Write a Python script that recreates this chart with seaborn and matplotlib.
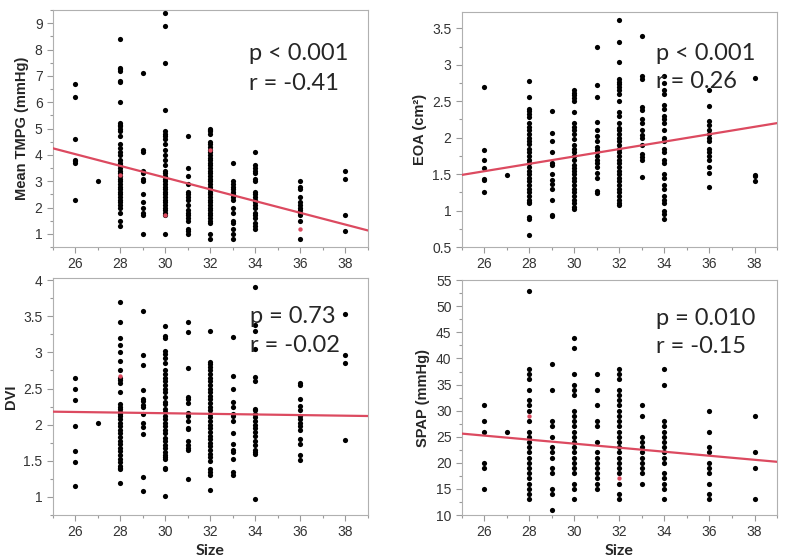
import numpy as np
import pandas as pd
import matplotlib
matplotlib.use('Agg')
import matplotlib.pyplot as plt
from matplotlib.ticker import MultipleLocator
import seaborn as sns

# valve size on x, one dict per panel: size -> measured values
tmpg = {
    26: [6.7, 6.2, 4.6, 3.8, 3.75, 3.7, 2.3],
    27: [3.0],
    28: [8.4, 7.3, 7.25, 7.2, 6.8, 6.75, 6.0, 5.2, 5.15, 5.1, 5.0, 4.9, 4.7, 4.4, 4.25,
         4.1, 4.0, 3.8, 3.7, 3.6, 3.5, 3.4, 3.3, 3.2, 3.1, 3.0, 2.9, 2.8, 2.7, 2.6, 2.5,
         2.4, 2.3, 2.2, 2.1, 2.0, 1.8, 1.5, 1.3],
    29: [7.1, 4.2, 4.1, 3.4, 3.3, 3.1, 3.0, 2.5, 2.2, 2.0, 1.8, 1.7, 1.0],
    30: [9.4, 8.9, 7.5, 5.7, 4.9, 4.8, 4.7, 4.6, 4.4, 4.2, 4.0, 3.8, 3.6, 3.4, 3.3, 3.2,
         3.1, 3.0, 2.9, 2.8, 2.7, 2.6, 2.5, 2.4, 2.3, 2.2, 2.1, 2.0, 1.9, 1.8, 1.7, 1.0],
    31: [4.7, 3.5, 3.2, 2.9, 2.6, 2.5, 2.4, 2.3, 2.1, 1.9, 1.8, 1.7, 1.6, 1.5, 1.2, 1.1, 1.0],
    32: [5.0, 4.95, 4.9, 4.8, 4.5, 4.4, 4.3, 4.2, 4.1, 4.0, 3.9, 3.8, 3.7, 3.6, 3.5, 3.4,
         3.3, 3.2, 3.1, 3.0, 2.9, 2.8, 2.7, 2.6, 2.5, 2.4, 2.3, 2.2, 2.1, 2.0, 1.9, 1.8,
         1.7, 1.6, 1.5, 1.4, 1.0, 0.8],
    33: [3.7, 3.0, 2.9, 2.8, 2.7, 2.6, 2.5, 2.4, 2.3, 2.0, 1.8, 1.5, 1.4, 1.2, 1.0, 0.8],
    34: [4.1, 3.6, 3.5, 3.4, 3.3, 3.1, 3.0, 2.6, 2.5, 2.4, 2.3, 2.2, 2.1, 2.0, 1.8, 1.7,
         1.6, 1.4, 1.3, 1.2],
    36: [3.0, 2.8, 2.7, 2.4, 2.2, 2.1, 2.0, 1.9, 1.8, 1.7, 1.5, 0.8],
    38: [3.4, 3.1, 1.7, 1.1],
}
eoa = {
    26: [2.69, 1.83, 1.70, 1.58, 1.43, 1.42, 1.26],
    27: [1.49],
    28: [2.78, 2.56, 2.39, 2.36, 2.32, 2.28, 2.20, 2.15, 2.10, 2.05, 2.00, 1.95, 1.92, 1.85,
         1.80, 1.75, 1.70, 1.65, 1.60, 1.55, 1.50, 1.45, 1.40, 1.35, 1.30, 1.25, 1.20, 1.15,
         1.12, 1.10, 0.91, 0.89, 0.66],
    29: [2.37, 2.07, 1.96, 1.80, 1.65, 1.63, 1.50, 1.42, 1.37, 1.30, 1.14, 0.94, 0.93],
    30: [2.65, 2.62, 2.58, 2.55, 2.50, 2.35, 2.20, 2.15, 2.10, 2.05, 1.98, 1.90, 1.85, 1.80,
         1.75, 1.70, 1.62, 1.58, 1.55, 1.50, 1.45, 1.40, 1.35, 1.30, 1.25, 1.20, 1.15, 1.10,
         1.05, 1.02],
    31: [3.25, 2.72, 2.56, 2.22, 2.11, 2.02, 1.95, 1.87, 1.83, 1.80, 1.75, 1.70, 1.65, 1.60,
         1.52, 1.45, 1.27, 1.24],
    32: [3.62, 3.31, 3.04, 2.80, 2.77, 2.73, 2.70, 2.66, 2.60, 2.50, 2.35, 2.30, 2.20, 2.14,
         2.10, 2.05, 2.00, 1.95, 1.90, 1.85, 1.80, 1.75, 1.70, 1.65, 1.60, 1.55, 1.50, 1.45,
         1.40, 1.35, 1.30, 1.25, 1.20, 1.15, 1.10, 1.08],
    33: [3.39, 2.85, 2.80, 2.42, 2.38, 2.26, 2.20, 2.10, 2.04, 2.00, 1.90, 1.78, 1.73, 1.70, 1.46],
    34: [2.85, 2.75, 2.65, 2.60, 2.45, 2.40, 2.30, 2.25, 2.20, 2.10, 2.00, 1.95, 1.85, 1.80,
         1.70, 1.65, 1.50, 1.45, 1.35, 1.30, 1.20, 1.15, 1.10, 1.00, 0.95, 0.89],
    36: [2.65, 2.44, 2.23, 2.18, 2.10, 2.05, 2.00, 1.95, 1.85, 1.80, 1.75, 1.70, 1.60, 1.52, 1.32],
    38: [2.82, 1.49, 1.47, 1.40],
}
dvi = {
    26: [2.64, 2.50, 2.34, 1.98, 1.64, 1.49, 1.15],
    27: [2.03],
    28: [3.70, 3.42, 3.20, 3.10, 3.00, 2.88, 2.75, 2.65, 2.62, 2.58, 2.45, 2.28, 2.25, 2.22,
         2.18, 2.15, 2.12, 2.08, 2.02, 1.98, 1.93, 1.88, 1.83, 1.78, 1.73, 1.68, 1.63, 1.58,
         1.53, 1.48, 1.43, 1.40, 1.38, 1.19],
    29: [3.57, 2.96, 2.83, 2.48, 2.36, 2.33, 2.27, 2.25, 2.15, 2.02, 1.97, 1.87, 1.28, 1.08],
    30: [3.37, 3.23, 3.20, 3.02, 2.98, 2.92, 2.85, 2.75, 2.70, 2.65, 2.60, 2.55, 2.50, 2.45,
         2.38, 2.32, 2.28, 2.22, 2.18, 2.12, 2.08, 2.02, 1.98, 1.92, 1.88, 1.82, 1.78, 1.72,
         1.68, 1.62, 1.58, 1.55, 1.52, 1.40, 1.38, 1.01],
    31: [3.42, 3.28, 2.78, 2.38, 2.35, 2.30, 2.16, 2.12, 2.05, 1.96, 1.94, 1.78, 1.72, 1.68,
         1.65, 1.25],
    32: [3.30, 2.87, 2.84, 2.80, 2.75, 2.70, 2.65, 2.60, 2.55, 2.50, 2.45, 2.40, 2.35, 2.30,
         2.25, 2.20, 2.15, 2.10, 2.05, 2.00, 1.95, 1.90, 1.85, 1.80, 1.75, 1.70, 1.65, 1.60,
         1.55, 1.50, 1.38, 1.35, 1.30, 1.10],
    33: [3.22, 2.68, 2.50, 2.31, 2.24, 2.15, 2.12, 2.05, 1.88, 1.73, 1.65, 1.62, 1.52, 1.34, 1.31],
    34: [3.91, 3.38, 3.30, 3.05, 2.66, 2.60, 2.22, 2.20, 2.15, 2.10, 2.05, 2.00, 1.95, 1.90,
         1.85, 1.78, 1.72, 1.65, 1.62, 1.60, 0.97],
    36: [2.57, 2.55, 2.36, 2.26, 2.20, 2.12, 2.08, 2.03, 1.98, 1.93, 1.80, 1.73, 1.58, 1.51],
    38: [3.53, 2.96, 2.85, 1.79],
}
spap = {
    26: [31, 28, 26, 20, 19, 15],
    27: [26],
    28: [53, 38, 37, 36, 34, 32, 31, 30, 28, 26, 25, 24, 23, 22, 21, 20, 19, 18, 17, 16, 15, 14, 13],
    29: [39, 34, 28, 27, 25, 23, 22, 21, 19, 18, 15, 14, 11],
    30: [44, 42, 37, 35, 34, 33, 30, 29, 28, 27, 26, 25, 24, 23, 22, 21, 20, 19, 18, 16, 15, 13],
    31: [37, 34, 31, 28, 27, 24, 22, 21, 20, 19, 18, 17, 16, 15],
    32: [38, 37, 36, 34, 33, 32, 31, 30, 29, 28, 27, 26, 25, 24, 23, 22, 21, 20, 19, 18, 16, 14, 13],
    33: [31, 29, 25, 24, 23, 22, 21, 20, 19, 18, 16],
    34: [38, 35, 28, 27, 26, 25, 24, 23, 22, 21, 20, 18, 17, 16, 15, 13],
    36: [30, 26, 23, 22, 20, 19, 18, 16, 14, 13],
    38: [29, 22, 19, 13],
}

# highlighted (red) rows per panel: (size, value)
red_tmpg = [(28, 3.25), (30, 1.7), (32, 4.2), (36, 1.2)]
red_eoa = []
red_dvi = [(28, 2.68)]
red_spap = [(28, 29), (32, 17)]

# fitted line values read at x = 25 and x = 39
fit_x = [25, 39]
fit_tmpg = [4.25, 1.13]
fit_eoa = [1.49, 2.20]
fit_dvi = [2.18, 2.12]
fit_spap = [25.6, 20.2]

stats = [('p < 0.001', 'r = -0.41'), ('p < 0.001', 'r = 0.26'),
         ('p = 0.73', 'r = -0.02'), ('p = 0.010', 'r = -0.15')]
ylabels = ['Mean TMPG (mmHg)', 'EOA (cm²)', 'DVI', 'SPAP (mmHg)']


def to_frame(d):
    rows = [(k, v) for k, vals in d.items() for v in vals]
    return pd.DataFrame(rows, columns=['Size', 'Value'])


sns.set_style('ticks')
plt.rcParams['font.family'] = ['Liberation Sans', 'DejaVu Sans']

fig = plt.figure(figsize=(7.87, 5.59), dpi=100)
positions = [[0.0673, 0.558, 0.4003, 0.424], [0.587, 0.558, 0.4003, 0.420],
             [0.0673, 0.0787, 0.4003, 0.424], [0.587, 0.0787, 0.4003, 0.420]]
panels = [(tmpg, red_tmpg, fit_tmpg, (0.5, 9.5), 1, 0.5, (0.622, 0.789, 0.662)),
          (eoa, red_eoa, fit_eoa, (0.5, 3.72), 0.5, 0.25, (0.616, 0.796, 0.677)),
          (dvi, red_dvi, fit_dvi, (0.75, 4.03), 0.5, 0.25, (0.625, 0.81, 0.688)),
          (spap, red_spap, fit_spap, (10, 55), 5, 2.5, (0.616, 0.81, 0.69))]
red = '#dc4a60'

for i, (d, reds, fit, ylim, major, minor, tpos) in enumerate(panels):
    ax = fig.add_axes(positions[i])
    df = to_frame(d)
    sns.scatterplot(data=df, x='Size', y='Value', ax=ax, color='black', s=14,
                    linewidth=0, zorder=3)
    if reds:
        rdf = pd.DataFrame(reds, columns=['Size', 'Value'])
        sns.scatterplot(data=rdf, x='Size', y='Value', ax=ax, color=red, s=10,
                        linewidth=0, zorder=4)
    sns.lineplot(x=fit_x, y=fit, ax=ax, color=red, linewidth=1.6, zorder=5)
    ax.set_xlim(25, 39)
    ax.set_ylim(*ylim)
    ax.set_xticks([26, 28, 30, 32, 34, 36, 38])
    ax.xaxis.set_minor_locator(MultipleLocator(1))
    ax.yaxis.set_major_locator(MultipleLocator(major))
    ax.yaxis.set_minor_locator(MultipleLocator(minor))
    ax.tick_params(which='both', direction='out', color='#9a9a9a', labelcolor='#333333',
                   labelsize=10, width=0.8)
    ax.tick_params(which='major', length=4)
    ax.tick_params(which='minor', length=2.5)
    for sp in ax.spines.values():
        sp.set_visible(True)
        sp.set_color('#b0b0b0')
        sp.set_linewidth(0.8)
    ax.set_ylabel(ylabels[i], fontsize=10.5, fontweight='bold', labelpad=4)
    if i >= 2:
        ax.set_xlabel('Size', fontsize=11.5, fontweight='bold', labelpad=3,
                      family=['Lato', 'DejaVu Sans'])
    else:
        ax.set_xlabel('')
    ax.yaxis.set_major_formatter(plt.FuncFormatter(lambda v, p: f'{v:g}'))
    tx, ty1, ty2 = tpos
    ax.text(tx, ty1, stats[i][0], transform=ax.transAxes, fontsize=17,
            family=['Lato', 'DejaVu Sans'], va='baseline', zorder=6)
    ax.text(tx, ty2, stats[i][1], transform=ax.transAxes, fontsize=17,
            family=['Lato', 'DejaVu Sans'], va='baseline', zorder=6)

fig.savefig('out.png', dpi=100)
